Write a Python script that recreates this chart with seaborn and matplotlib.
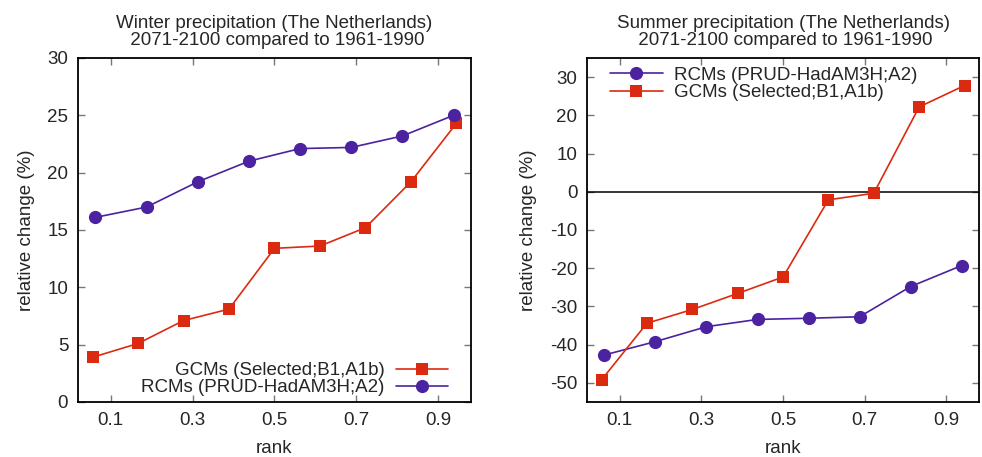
import numpy as np
import pandas as pd
import matplotlib
matplotlib.use("Agg")
import matplotlib.pyplot as plt
import seaborn as sns

sns.set_theme(style="ticks")
plt.rcParams["font.family"] = ["Liberation Sans", "DejaVu Sans"]
plt.rcParams["axes.unicode_minus"] = False

# Rank positions (plotting positions (i-0.5)/n)
rank_rcm = [0.0625, 0.1875, 0.3125, 0.4375, 0.5625, 0.6875, 0.8125, 0.9375]
rank_gcm = [0.0556, 0.1667, 0.2778, 0.3889, 0.5, 0.6111, 0.7222, 0.8333, 0.9444]

# Relative precipitation change (%), winter
winter_rcm = [16.1, 17.0, 19.2, 21.0, 22.1, 22.2, 23.2, 25.0]
winter_gcm = [3.9, 5.1, 7.1, 8.1, 13.4, 13.6, 15.2, 19.2, 24.3]

# Relative precipitation change (%), summer
summer_rcm = [-42.7, -39.2, -35.3, -33.4, -33.1, -32.7, -24.8, -19.3]
summer_gcm = [-49.2, -34.4, -30.8, -26.6, -22.3, -2.1, -0.4, 22.2, 27.8]

label_gcm = "GCMs (Selected;B1,A1b)"
label_rcm = "RCMs (PRUD-HadAM3H;A2)"
titles = ["Winter precipitation (The Netherlands)\n 2071-2100 compared to 1961-1990",
          "Summer precipitation (The Netherlands)\n 2071-2100 compared to 1961-1990"]
xticks = [0.1, 0.3, 0.5, 0.7, 0.9]

RED = "#dc2a10"
PURPLE = "#4b22a0"
FS = 13.5

fig = plt.figure(figsize=(9.82, 4.57), dpi=100)
ax1 = fig.add_axes([0.0794, 0.1204, 0.4002, 0.7527])
ax2 = fig.add_axes([0.5978, 0.1204, 0.3992, 0.7527])


def draw(ax, rcm, gcm, order):
    df_r = pd.DataFrame({"rank": rank_rcm, "change": rcm})
    df_g = pd.DataFrame({"rank": rank_gcm, "change": gcm})
    kws_r = dict(color=PURPLE, marker="o", markersize=9.5, markeredgewidth=0, lw=1.2, label=label_rcm)
    kws_g = dict(color=RED, marker="s", markersize=8.8, markeredgewidth=0, lw=1.2, label=label_gcm)
    if order == "gcm_first":
        sns.lineplot(data=df_g, x="rank", y="change", ax=ax, **kws_g)
        sns.lineplot(data=df_r, x="rank", y="change", ax=ax, **kws_r)
    else:
        sns.lineplot(data=df_r, x="rank", y="change", ax=ax, **kws_r)
        sns.lineplot(data=df_g, x="rank", y="change", ax=ax, **kws_g)
    ax.set_xlim(0.02, 0.98)
    ax.set_xticks(xticks)
    ax.set_xticklabels([f"{t:.1f}" for t in xticks])
    ax.set_xlabel("rank", fontsize=FS, labelpad=8)
    ax.set_ylabel("relative change (%)", fontsize=FS, labelpad=9)
    ax.tick_params(direction="in", top=True, right=True, length=5, width=1,
                   color="#777777", labelsize=FS, pad=7)
    for s in ax.spines.values():
        s.set_linewidth(1.3)
        s.set_color("black")
        s.set_visible(True)


draw(ax1, winter_rcm, winter_gcm, "gcm_first")
ax1.set_ylim(0, 30)
ax1.set_yticks(np.arange(0, 31, 5))
ax1.set_title(titles[0], fontsize=FS, pad=9, linespacing=1.0)
ax1.legend(loc="lower right", bbox_to_anchor=(0.975, -0.022), frameon=False, markerfirst=False,
           fontsize=FS, handlelength=2.8, handletextpad=0.6, labelspacing=0.0,
           borderaxespad=0.3)

draw(ax2, summer_rcm, summer_gcm, "rcm_first")
ax2.axhline(0, color="black", lw=1.1, zorder=1)
ax2.set_ylim(-55, 35)
ax2.set_yticks(np.arange(-50, 31, 10))
ax2.set_title(titles[1], fontsize=FS, pad=9, linespacing=1.0)
ax2.legend(loc="upper left", bbox_to_anchor=(0.03, 1.007), frameon=False, markerfirst=True,
           fontsize=FS, handlelength=2.8, handletextpad=0.6, labelspacing=0.0,
           borderaxespad=0.2)

fig.savefig("out.png", dpi=100)
